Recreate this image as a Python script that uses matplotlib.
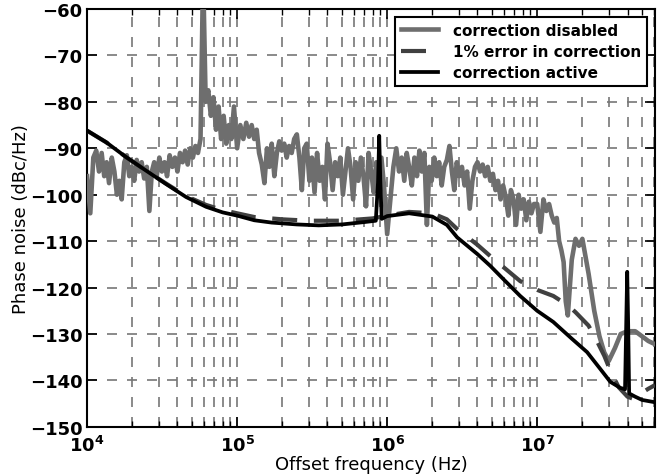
import numpy as np
import matplotlib
matplotlib.use("Agg")
from matplotlib import pyplot as plt
from matplotlib.ticker import FuncFormatter, LogLocator

# correction disabled (noisy measurement)
gray_freq = [
    1.00e4, 1.05e4, 1.10e4, 1.15e4, 1.20e4, 1.25e4, 1.30e4, 1.35e4, 1.40e4, 1.46e4,
    1.52e4, 1.58e4, 1.64e4, 1.70e4, 1.77e4, 1.84e4, 1.91e4, 1.98e4, 2.06e4, 2.14e4,
    2.22e4, 2.31e4, 2.40e4, 2.50e4, 2.60e4, 2.70e4, 2.80e4, 2.91e4, 3.03e4, 3.15e4,
    3.28e4, 3.41e4, 3.55e4, 3.70e4, 3.85e4, 4.00e4, 4.16e4, 4.33e4, 4.50e4, 4.68e4,
    4.87e4, 5.07e4, 5.27e4, 5.48e4, 5.70e4, 5.93e4, 6.17e4, 6.42e4, 6.68e4, 6.95e4,
    7.23e4, 7.52e4, 7.82e4, 8.13e4, 8.46e4, 8.80e4, 9.15e4, 9.52e4,
    1.00e5, 1.05e5, 1.10e5, 1.15e5, 1.20e5, 1.25e5, 1.30e5, 1.35e5, 1.40e5, 1.46e5,
    1.52e5, 1.58e5, 1.64e5, 1.70e5, 1.77e5, 1.84e5, 1.91e5, 1.98e5, 2.06e5, 2.14e5,
    2.22e5, 2.31e5, 2.40e5, 2.50e5, 2.60e5, 2.70e5, 2.80e5, 2.91e5, 3.03e5, 3.15e5,
    3.28e5, 3.41e5, 3.55e5, 3.70e5, 3.85e5, 4.00e5, 4.16e5, 4.33e5, 4.50e5, 4.68e5,
    4.87e5, 5.07e5, 5.27e5, 5.48e5, 5.70e5, 5.93e5, 6.17e5, 6.42e5, 6.68e5, 6.95e5,
    7.23e5, 7.52e5, 7.82e5, 8.13e5, 8.46e5, 8.80e5, 9.15e5, 9.52e5,
    1.00e6, 1.05e6, 1.10e6, 1.15e6, 1.20e6, 1.25e6, 1.30e6, 1.35e6, 1.40e6, 1.46e6,
    1.52e6, 1.58e6, 1.64e6, 1.70e6, 1.77e6, 1.84e6, 1.91e6, 1.98e6, 2.06e6, 2.14e6,
    2.22e6, 2.31e6, 2.40e6, 2.50e6, 2.60e6, 2.70e6, 2.80e6, 2.91e6, 3.03e6, 3.15e6,
    3.28e6, 3.41e6, 3.55e6, 3.70e6, 3.85e6, 4.00e6, 4.16e6, 4.33e6, 4.50e6, 4.68e6,
    4.87e6, 5.07e6, 5.27e6, 5.48e6, 5.70e6, 5.93e6, 6.17e6, 6.42e6, 6.68e6, 6.95e6,
    7.23e6, 7.52e6, 7.82e6, 8.13e6, 8.46e6, 8.80e6, 9.15e6, 9.52e6,
    1.00e7, 1.05e7, 1.10e7, 1.15e7, 1.20e7, 1.25e7, 1.30e7, 1.35e7, 1.40e7, 1.45e7,
    1.50e7, 1.55e7, 1.60e7, 1.65e7, 1.70e7, 1.80e7, 1.90e7, 2.00e7, 2.20e7, 2.40e7,
    2.60e7, 2.80e7, 3.00e7, 3.30e7, 3.60e7, 4.00e7, 4.50e7, 5.00e7, 5.50e7, 6.10e7,
]
gray_db = [
    -96, -104, -92, -90.5, -95, -91, -96, -93, -97.5, -92,
    -95, -100, -97, -101, -93, -91.5, -96, -94, -97, -92.5,
    -95, -93, -96.5, -94, -103.5, -95, -93, -96, -92, -95,
    -93, -96, -91.5, -94, -92, -95, -91, -93, -90.5, -93.5,
    -90, -92, -89.5, -91, -88, -52, -80, -77.5, -83, -79,
    -86, -81, -88, -83, -89, -85, -88, -81,
    -90, -85, -88, -84.5, -87.5, -85, -88, -86, -91, -93.5,
    -97.5, -90, -94, -89, -96, -91, -88.5, -90.5, -89, -92,
    -89.5, -91, -88, -87, -92, -99, -90, -89, -97, -92,
    -99.5, -91, -97, -94, -101, -89, -93, -99, -93, -96,
    -92, -100, -95, -90, -94, -101, -93, -97, -92, -96,
    -102.5, -91, -95, -99.5, -93, -97, -92, -98,
    -108.5, -101, -94, -90, -95, -92, -97, -91, -94, -98,
    -92, -96, -90.5, -95, -91, -106.5, -94, -97, -92, -96,
    -93, -98, -94, -92.5, -89.5, -95, -99, -93, -96, -94,
    -98, -95, -103, -97, -94, -93, -95, -93.5, -96, -94,
    -97, -95.5, -99, -97, -101, -98, -100.5, -104.5, -99, -101,
    -106.5, -100, -103, -101, -105.5, -101.5, -104, -102,
    -102, -108, -101, -103.5, -102, -104.5, -106, -105, -110, -112,
    -114.5, -123, -126, -120, -114, -109.5, -111, -109.5, -117, -125,
    -130.5, -134, -135.8, -133, -130, -129.4, -129.4, -130.5, -131.5, -132.2,
]

# 1% error in correction
dash_freq = [
    1.0e4, 1.34e4, 1.82e4, 2.47e4, 3.36e4, 4.57e4, 6.21e4, 8.0e4, 1.0e5,
    1.3e5, 2.0e5, 3.0e5, 5.0e5, 8.0e5, 1.0e6, 1.4e6, 2.0e6, 2.5e6, 2.93e6,
    4.0e6, 4.86e6, 7.7e6, 1.0e7, 1.28e7, 1.6e7, 1.8e7, 2.2e7, 2.5e7, 2.8e7,
    3.1e7, 3.5e7, 4.0e7, 4.4e7, 4.8e7, 5.5e7, 6.1e7,
]
dash_db = [
    -86.2, -88.7, -91.9, -94.8, -97.6, -100.3, -102.2, -103.3, -104.0,
    -104.8, -105.3, -105.6, -105.6, -105.1, -104.5, -103.7, -104.0, -105.3, -107.4,
    -110.8, -113.2, -118.6, -120.5, -121.8, -123.8, -125.3, -128.2, -131.5, -134.7,
    -138.2, -141.5, -143.5, -144.0, -143.0, -141.8, -141.0,
]

# correction active
black_freq = [
    1.0e4, 1.34e4, 1.82e4, 2.47e4, 3.36e4, 4.57e4, 6.21e4, 8.0e4, 1.0e5,
    1.3e5, 1.7e5, 2.5e5, 3.5e5, 5.0e5, 7.0e5, 8.4e5, 8.7e5, 8.85e5, 9.0e5,
    9.2e5, 1.0e6, 1.4e6, 2.0e6, 2.5e6, 2.93e6, 4.0e6, 4.86e6, 6.0e6, 7.7e6,
    1.0e7, 1.28e7, 1.7e7, 2.15e7, 2.6e7, 3.07e7, 3.58e7, 3.85e7, 3.92e7,
    3.98e7, 4.04e7, 4.1e7, 4.5e7, 5.0e7, 6.1e7,
]
black_db = [
    -86.2, -88.7, -91.9, -94.8, -97.7, -100.5, -102.6, -103.8, -104.5,
    -105.5, -106.0, -106.4, -106.6, -106.4, -105.9, -105.6, -97.0, -87.3, -97.0,
    -105.2, -104.6, -104.0, -104.7, -106.5, -109.2, -112.8, -115.3, -118.3, -121.8,
    -125.0, -127.4, -131.0, -133.9, -137.3, -140.3, -141.6, -141.9, -128.0,
    -116.6, -128.0, -142.8, -143.5, -144.2, -144.7,
]

fig = plt.figure(figsize=(6.65, 4.77), dpi=100)
ax = fig.add_axes([0.131, 0.103, 0.854, 0.876])

ax.semilogx(gray_freq, gray_db, color="#6e6e6e", lw=3.3, label="correction disabled", zorder=3)
ax.semilogx(dash_freq, dash_db, color="#404040", lw=3, dashes=(6, 4),
            label="1% error in correction", zorder=4)
ax.semilogx(black_freq, black_db, color="black", lw=2.7, label="correction active", zorder=5)

ax.set_xlim(1e4, 6.1e7)
ax.set_ylim(-150, -60)
ax.set_yticks(np.arange(-150, -59, 10))

ax.xaxis.set_major_locator(LogLocator(base=10))
ax.xaxis.set_minor_locator(LogLocator(base=10, subs=np.arange(2, 10)))
ax.xaxis.set_major_formatter(
    FuncFormatter(lambda v, p: r"$\mathbf{10^{%d}}$" % round(np.log10(v))))

ax.grid(True, which="major", axis="both", color="#777777", ls=(0, (6, 6)), lw=1.2)
ax.grid(True, which="minor", axis="x", color="#777777", ls=(0, (6, 6)), lw=1.2)

ax.tick_params(which="both", direction="in", top=True, right=True)
ax.tick_params(which="major", length=7, width=1.2, labelsize=13)
ax.tick_params(axis="x", which="major", pad=6)
ax.tick_params(which="minor", length=4, width=1)
for lbl in ax.get_yticklabels():
    lbl.set_fontweight("bold")
for s in ax.spines.values():
    s.set_linewidth(1.5)

ax.set_xlabel("Offset frequency (Hz)", fontsize=13, labelpad=0)
ax.set_ylabel("Phase noise (dBc/Hz)", fontsize=13, labelpad=0)

leg = ax.legend(loc="upper right", prop={"weight": "bold", "size": 11},
                fancybox=False, framealpha=1, edgecolor="black",
                handlelength=2.4, borderpad=0.4, labelspacing=0.4,
                handletextpad=1.0)
leg.get_frame().set_linewidth(1.5)

fig.savefig("out.png", dpi=100)
